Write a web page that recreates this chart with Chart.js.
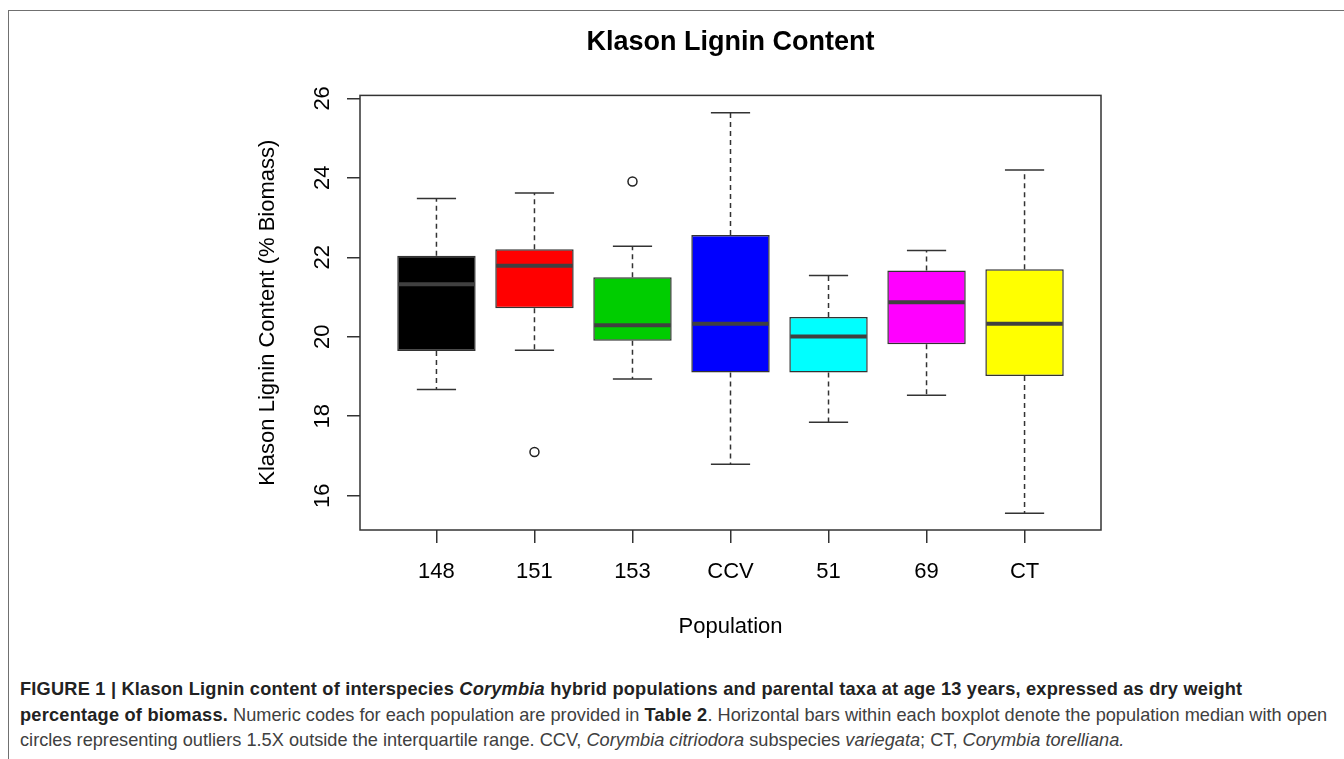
<!DOCTYPE html>
<html>
<head>
<meta charset="utf-8">
<script src="https://cdn.jsdelivr.net/npm/chart.js@4.4.1/dist/chart.umd.min.js"></script>
<style>
  body { margin: 0; background: #fff; width: 1344px; height: 759px; overflow: hidden; position: relative; }
  .frame { position: absolute; left: 8px; top: 10px; width: 1400px; height: 800px; border-left: 1px solid #707070; border-top: 1px solid #707070; }
  #chartBox { position: absolute; left: 0; top: 0; }
  .caption { position: absolute; left: 20px; top: 677px; font-family: 'Liberation Sans', Arial, sans-serif; font-size: 18.2px; line-height: 25.5px; color: #404040; white-space: nowrap; }
  .caption b { color: #222; letter-spacing: 0.22px; }
</style>
</head>
<body>
<div class="frame"></div>
<canvas id="chartBox" width="1344" height="665"></canvas>
<div class="caption">
  <b>FIGURE 1 | Klason Lignin content of interspecies <i>Corymbia</i> hybrid populations and parental taxa at age 13 years, expressed as dry weight</b><br>
  <b>percentage of biomass.</b> Numeric codes for each population are provided in <b>Table 2</b>. Horizontal bars within each boxplot denote the population median with open<br>
  circles representing outliers 1.5X outside the interquartile range. CCV, <i>Corymbia citriodora</i> subspecies <i>variegata</i>; CT, <i>Corymbia torelliana.</i>
</div>
<script>
// 모집단별 박스플롯 값
const categories = ['148', '151', '153', 'CCV', '51', '69', 'CT'];
const whiskerLow = [18.67, 19.66, 18.94, 16.79, 17.85, 18.53, 15.56];
const q1 = [19.64, 20.72, 19.90, 19.10, 19.10, 19.81, 19.01];
const median = [21.32, 21.79, 20.29, 20.33, 20.01, 20.87, 20.33];
const q3 = [22.04, 22.20, 21.50, 22.56, 20.50, 21.67, 21.70];
const whiskerHigh = [23.48, 23.62, 22.28, 25.64, 21.54, 22.17, 24.20];

// 이상치
const outlierGroup = ['151', '153'];
const outlierValue = [17.10, 23.91];

// 축 눈금
const yTicks = [16, 18, 20, 22, 24, 26];

const boxColors = ['#000000', '#ff0000', '#00cd00', '#0000ff', '#00ffff', '#ff00ff', '#ffff00'];
const lineColor = '#333333';

Chart.defaults.font.family = "'Liberation Sans', Arial, sans-serif";
Chart.defaults.color = '#000';

// 카테고리 위치 (1, 2, 3 ...)
const xPos = categories.map((c, i) => i + 1);

// 수염, 중앙값, 테두리 그리기
const boxplotExtras = {
  id: 'boxplotExtras',
  afterDatasetsDraw(chart) {
    const { ctx, chartArea, scales: { x, y } } = chart;
    ctx.save();
    ctx.strokeStyle = lineColor;
    categories.forEach((c, i) => {
      const cx = x.getPixelForValue(xPos[i]);
      const capL = x.getPixelForValue(xPos[i] - 0.2);
      const capR = x.getPixelForValue(xPos[i] + 0.2);
      const boxL = x.getPixelForValue(xPos[i] - 0.4);
      const boxR = x.getPixelForValue(xPos[i] + 0.4);

      // 점선 수염
      ctx.lineWidth = 1.5;
      ctx.setLineDash([5, 4]);
      ctx.beginPath();
      ctx.moveTo(cx, y.getPixelForValue(q3[i]));
      ctx.lineTo(cx, y.getPixelForValue(whiskerHigh[i]));
      ctx.moveTo(cx, y.getPixelForValue(q1[i]));
      ctx.lineTo(cx, y.getPixelForValue(whiskerLow[i]));
      ctx.stroke();

      // 수염 끝 가로선
      ctx.setLineDash([]);
      ctx.beginPath();
      ctx.moveTo(capL, y.getPixelForValue(whiskerHigh[i]));
      ctx.lineTo(capR, y.getPixelForValue(whiskerHigh[i]));
      ctx.moveTo(capL, y.getPixelForValue(whiskerLow[i]));
      ctx.lineTo(capR, y.getPixelForValue(whiskerLow[i]));
      ctx.stroke();

      // 중앙값
      ctx.lineWidth = 4;
      ctx.strokeStyle = '#404040';
      ctx.beginPath();
      ctx.moveTo(boxL + 1, y.getPixelForValue(median[i]));
      ctx.lineTo(boxR - 1, y.getPixelForValue(median[i]));
      ctx.stroke();
      ctx.strokeStyle = lineColor;
    });

    // 그래프 테두리
    ctx.lineWidth = 1.5;
    ctx.strokeRect(chartArea.left, chartArea.top, chartArea.right - chartArea.left, chartArea.bottom - chartArea.top);
    ctx.restore();
  }
};

const ctx = document.getElementById('chartBox').getContext('2d');

new Chart(ctx, {
  type: 'bar',
  data: {
    datasets: [{
      label: 'box',
      data: categories.map((c, i) => ({ x: xPos[i], y: [q1[i], q3[i]] })),
      backgroundColor: boxColors,
      borderColor: lineColor,
      borderWidth: 1.5,
      borderSkipped: false,
      barPercentage: 0.8,
      categoryPercentage: 1.0,
      order: 2
    }, {
      type: 'scatter',
      label: 'outliers',
      data: outlierGroup.map((g, i) => ({ x: categories.indexOf(g) + 1, y: outlierValue[i] })),
      pointRadius: 4.5,
      pointBorderWidth: 1.5,
      pointBorderColor: '#222',
      pointBackgroundColor: 'rgba(0,0,0,0)',
      order: 1
    }]
  },
  options: {
    responsive: false,
    animation: false,
    devicePixelRatio: 1,
    layout: {
      padding: { left: 0, right: 243, top: 0, bottom: 0 }
    },
    plugins: {
      legend: { display: false },
      tooltip: { enabled: false },
      title: {
        display: true,
        text: 'Klason Lignin Content',
        fullSize: false,
        font: { size: 27, weight: 'bold' },
        color: '#000',
        padding: { top: 26, bottom: 37 }
      }
    },
    scales: {
      x: {
        type: 'linear',
        min: 0.22,
        max: 7.78,
        offset: false,
        afterBuildTicks: (scale) => { scale.ticks = xPos.map(v => ({ value: v })); },
        afterFit: (scale) => { scale.height = 135; },
        border: { display: false },
        grid: {
          display: true,
          offset: false,
          drawOnChartArea: false,
          drawTicks: true,
          tickLength: 13,
          color: lineColor,
          lineWidth: 1.5
        },
        ticks: {
          autoSkip: false,
          maxRotation: 0,
          padding: 16,
          font: { size: 22 },
          color: '#000',
          callback: (v) => categories[v - 1]
        },
        title: {
          display: true,
          text: 'Population',
          font: { size: 22 },
          color: '#000',
          padding: { top: 0, bottom: 25 }
        }
      },
      y: {
        min: 15.137,
        max: 26.075,
        afterBuildTicks: (scale) => { scale.ticks = yTicks.map(v => ({ value: v })); },
        afterFit: (scale) => { scale.width = 360; },
        border: { display: false },
        grid: {
          display: true,
          drawOnChartArea: false,
          drawTicks: true,
          tickLength: 13,
          color: lineColor,
          lineWidth: 1.5
        },
        ticks: {
          minRotation: 90,
          maxRotation: 90,
          crossAlign: 'center',
          padding: 12,
          font: { size: 22 },
          color: '#000'
        },
        title: {
          display: true,
          text: 'Klason Lignin Content (% Biomass)',
          font: { size: 22 },
          color: '#000',
          padding: { top: 255, bottom: 0 }
        }
      }
    }
  },
  plugins: [boxplotExtras]
});
</script>
</body>
</html>
